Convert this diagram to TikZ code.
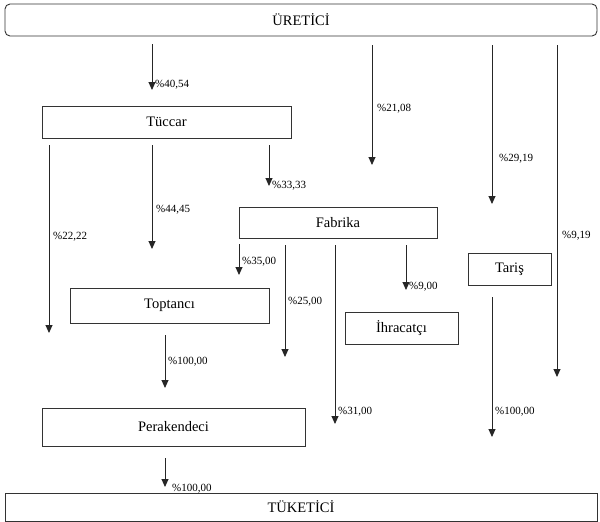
\documentclass[tikz,border=0pt]{standalone}
\usepackage{fontspec}
\setmainfont{Liberation Serif}
\usetikzlibrary{arrows.meta}
\begin{document}
\begin{tikzpicture}[x=1pt,y=-1pt,
  box/.style={draw=black!80, line width=0.9pt, inner sep=0pt, font=\fontsize{14.5}{16}\selectfont},
  flow/.style={draw=black!85, line width=0.9pt, -{Triangle[width=7pt,length=8pt]}},
  pct/.style={anchor=west, inner sep=0pt, font=\fontsize{11}{12}\selectfont}]
\useasboundingbox (0,0) rectangle (600,522);
% boxes
\node[box, rounded corners=5pt, minimum width=592pt, minimum height=32pt] (uretici) at (301,20) {ÜRETİCİ};
\node[box, minimum width=249pt, minimum height=32pt] (tuccar) at (166.5,122) {Tüccar};
\node[box, minimum width=198pt, minimum height=31pt] (fabrika) at (338,222.5) {Fabrika};
\node[box, minimum width=199pt, minimum height=35pt] (toptanci) at (169.5,305.5) {Toptancı};
\node[box, minimum width=113pt, minimum height=32pt] (ihracatci) at (401.5,328) {İhracatçı};
\node[box, minimum width=83pt, minimum height=32pt] (taris) at (509.5,269) {Tariş};
\node[box, minimum width=263pt, minimum height=38pt] (perakendeci) at (173.5,427) {Perakendeci};
\node[box, minimum width=592pt, minimum height=28pt] (tuketici) at (301,507) {TÜKETİCİ};
% arrow end points
\coordinate (a1s) at (152,44);  \coordinate (a1e) at (152,90);
\coordinate (a2s) at (372,45);  \coordinate (a2e) at (372,165);
\coordinate (a3s) at (492,45);  \coordinate (a3e) at (492,204);
\coordinate (a4s) at (557,45);  \coordinate (a4e) at (557,377);
\coordinate (a5s) at (49,145);  \coordinate (a5e) at (49,333);
\coordinate (a6s) at (152,145); \coordinate (a6e) at (152,249);
\coordinate (a7s) at (269,145); \coordinate (a7e) at (269,186);
\coordinate (a8s) at (239,244); \coordinate (a8e) at (239,275);
\coordinate (a9s) at (285,245); \coordinate (a9e) at (285,357);
\coordinate (a10s) at (335,245); \coordinate (a10e) at (335,424);
\coordinate (a11s) at (406,245); \coordinate (a11e) at (406,290);
\coordinate (a12s) at (492,297); \coordinate (a12e) at (492,437);
\coordinate (a13s) at (165,335); \coordinate (a13e) at (165,388);
\coordinate (a14s) at (165,458); \coordinate (a14e) at (165,487);
% arrows
\foreach \i in {1,...,14} {\draw[flow] (a\i s) -- (a\i e);}
% labels
\node[pct] (l1) at (155,85) {\%40,54};
\node[pct] (l2) at (377,109) {\%21,08};
\node[pct] (l3) at (499,159) {\%29,19};
\node[pct] (l4) at (562,236) {\%9,19};
\node[pct] (l5) at (53,237) {\%22,22};
\node[pct] (l6) at (156,210) {\%44,45};
\node[pct] (l7) at (272,186) {\%33,33};
\node[pct] (l8) at (242,262) {\%35,00};
\node[pct] (l9) at (288,302) {\%25,00};
\node[pct] (l10) at (338,412) {\%31,00};
\node[pct] (l11) at (409,287) {\%9,00};
\node[pct] (l12) at (495,412) {\%100,00};
\node[pct] (l13) at (168,362) {\%100,00};
\node[pct] (l14) at (172,489) {\%100,00};
\end{tikzpicture}
\end{document}
